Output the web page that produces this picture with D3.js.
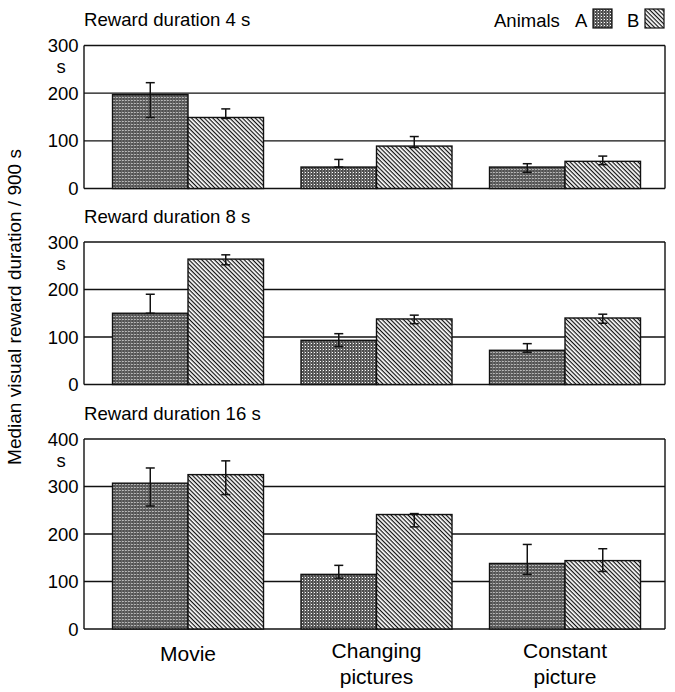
<!DOCTYPE html>
<html>
<head>
<meta charset="utf-8">
<script src="https://cdn.jsdelivr.net/npm/d3@7"></script>
<style>
  body { margin: 0; background: #fff; }
  svg { display: block; font-family: 'Liberation Sans', Arial, Helvetica, sans-serif; }
</style>
</head>
<body>
<svg id="chart" width="675" height="692"></svg>
<script>
const categories = ['Movie', 'Changing pictures', 'Constant picture'];
const animals = ['A', 'B'];
const panelTitles = ['Reward duration 4 s', 'Reward duration 8 s', 'Reward duration 16 s'];
const panelTicks = [[0, 100, 200, 300], [0, 100, 200, 300], [0, 100, 200, 300, 400]];

// medians per panel, per category
const valuesA = [[197, 45, 45], [150, 93, 72], [307, 115, 138]];
const valuesB = [[149, 89, 57], [264, 138, 140], [325, 241, 144]];
// error bar ends [low, high]
const errA = [
  [[149, 222], [45, 61], [34, 52]],
  [[150, 190], [80, 107], [68, 86]],
  [[259, 339], [107, 134], [115, 178]]
];
const errB = [
  [[147, 167], [86, 109], [50, 68]],
  [[252, 273], [128, 146], [129, 148]],
  [[283, 354], [215, 243], [121, 169]]
];

const LEFT = 84;
const RIGHT = 665;
const PANELS = [
  { top: 45.5, bottom: 188.5 },
  { top: 242, bottom: 384.5 },
  { top: 439, bottom: 629 }
];

const svg = d3.select('#chart');

// Fill patterns
const defs = svg.append('defs');
const patA = defs.append('pattern')
  .attr('id', 'patA')
  .attr('patternUnits', 'userSpaceOnUse')
  .attr('width', 3)
  .attr('height', 3);
patA.append('rect').attr('width', 3).attr('height', 3).attr('fill', '#4e4e4e');
patA.append('rect').attr('x', 1).attr('y', 1).attr('width', 1).attr('height', 1).attr('fill', '#fff');
patA.append('rect').attr('x', 0).attr('y', 0).attr('width', 1).attr('height', 3).attr('fill', '#777');

const patB = defs.append('pattern')
  .attr('id', 'patB')
  .attr('patternUnits', 'userSpaceOnUse')
  .attr('width', 3)
  .attr('height', 3)
  .attr('patternTransform', 'rotate(45)');
patB.append('rect').attr('width', 3).attr('height', 3).attr('fill', '#fff');
patB.append('rect').attr('x', 0).attr('y', 0).attr('width', 3).attr('height', 1.2).attr('fill', '#111');

const fills = { A: 'url(#patA)', B: 'url(#patB)' };

// Group scale and animal scale
const x0 = d3.scaleBand()
  .domain(categories)
  .range([LEFT, RIGHT])
  .paddingInner(0.199)
  .paddingOuter(0.1406)
  .align(0.538);

const x1 = d3.scaleBand()
  .domain(animals)
  .range([0, x0.bandwidth()])
  .padding(0);

PANELS.forEach((p, pi) => {
  const ticks = panelTicks[pi];
  const y = d3.scaleLinear()
    .domain([0, d3.max(ticks)])
    .range([p.bottom, p.top]);

  const g = svg.append('g');

  // Title
  g.append('text')
    .attr('x', LEFT)
    .attr('y', p.top - 19.5)
    .attr('font-size', 18.6)
    .text(panelTitles[pi]);

  // Grid lines
  g.selectAll('line.grid')
    .data(ticks)
    .enter()
    .append('line')
    .attr('x1', LEFT)
    .attr('x2', RIGHT)
    .attr('y1', d => y(d))
    .attr('y2', d => y(d))
    .attr('stroke', '#111')
    .attr('stroke-width', 1.4);

  // Frame sides
  g.append('line')
    .attr('x1', LEFT).attr('x2', LEFT)
    .attr('y1', y(d3.max(ticks))).attr('y2', y(0))
    .attr('stroke', '#111').attr('stroke-width', 1.4);
  g.append('line')
    .attr('x1', RIGHT).attr('x2', RIGHT)
    .attr('y1', y(d3.max(ticks))).attr('y2', y(0))
    .attr('stroke', '#111').attr('stroke-width', 1.4);

  // Tick labels
  g.selectAll('text.tick')
    .data(ticks)
    .enter()
    .append('text')
    .attr('x', 78.5)
    .attr('y', d => y(d))
    .attr('dy', '0.36em')
    .attr('text-anchor', 'end')
    .attr('font-size', 18.5)
    .text(d => d);

  // Unit under top tick
  g.append('text')
    .attr('x', 61)
    .attr('y', p.top + 27.5)
    .attr('text-anchor', 'middle')
    .attr('font-size', 18.5)
    .text('s');

  // Bars
  const rows = categories.map((c, ci) => ({
    cat: c,
    items: [
      { key: 'A', value: valuesA[pi][ci], err: errA[pi][ci] },
      { key: 'B', value: valuesB[pi][ci], err: errB[pi][ci] }
    ]
  }));

  const groups = g.selectAll('g.cat')
    .data(rows)
    .enter()
    .append('g')
    .attr('transform', d => 'translate(' + x0(d.cat) + ',0)');

  groups.selectAll('rect')
    .data(d => d.items)
    .enter()
    .append('rect')
    .attr('x', d => x1(d.key))
    .attr('y', d => y(d.value))
    .attr('width', x1.bandwidth())
    .attr('height', d => y(0) - y(d.value))
    .attr('fill', d => fills[d.key])
    .attr('stroke', '#111')
    .attr('stroke-width', 1.4);

  // Error bars
  const eb = groups.selectAll('g.err')
    .data(d => d.items)
    .enter()
    .append('g')
    .attr('transform', d => 'translate(' + (x1(d.key) + x1.bandwidth() / 2) + ',0)');

  eb.append('line')
    .attr('y1', d => y(d.err[0]))
    .attr('y2', d => y(d.err[1]))
    .attr('stroke', '#111')
    .attr('stroke-width', 1.5);
  eb.append('line')
    .attr('x1', -4.5).attr('x2', 4.5)
    .attr('y1', d => y(d.err[1])).attr('y2', d => y(d.err[1]))
    .attr('stroke', '#111')
    .attr('stroke-width', 1.5);
  eb.append('line')
    .attr('x1', -4.5).attr('x2', 4.5)
    .attr('y1', d => y(d.err[0])).attr('y2', d => y(d.err[0]))
    .attr('stroke', '#111')
    .attr('stroke-width', 1.5);
});

// Category labels
const catLabels = svg.selectAll('text.cat')
  .data(categories)
  .enter()
  .append('text')
  .attr('text-anchor', 'middle')
  .attr('font-size', 21)
  .attr('x', d => x0(d) + x0.bandwidth() / 2)
  .attr('y', d => d.indexOf(' ') < 0 ? 661 : 658);

catLabels.selectAll('tspan')
  .data(d => d.split(' '))
  .enter()
  .append('tspan')
  .attr('x', function () { return d3.select(this.parentNode).attr('x'); })
  .attr('dy', (d, i) => i === 0 ? 0 : 25.5)
  .text(d => d);

// Y axis label
svg.append('text')
  .attr('transform', 'translate(20.5,307) rotate(-90)')
  .attr('text-anchor', 'middle')
  .attr('font-size', 19)
  .text('Median visual reward duration / 900 s');

// Legend
const legend = svg.append('g');
legend.append('text')
  .attr('x', 494)
  .attr('y', 26.5)
  .attr('font-size', 18.5)
  .text('Animals');

const legendX = { A: 575, B: 627 };
animals.forEach(a => {
  legend.append('text')
    .attr('x', legendX[a])
    .attr('y', 26.5)
    .attr('font-size', 18.5)
    .text(a);
  legend.append('rect')
    .attr('x', legendX[a] + 18)
    .attr('y', 9)
    .attr('width', 19)
    .attr('height', 19)
    .attr('fill', fills[a])
    .attr('stroke', '#111')
    .attr('stroke-width', 1.2);
});
</script>
</body>
</html>
